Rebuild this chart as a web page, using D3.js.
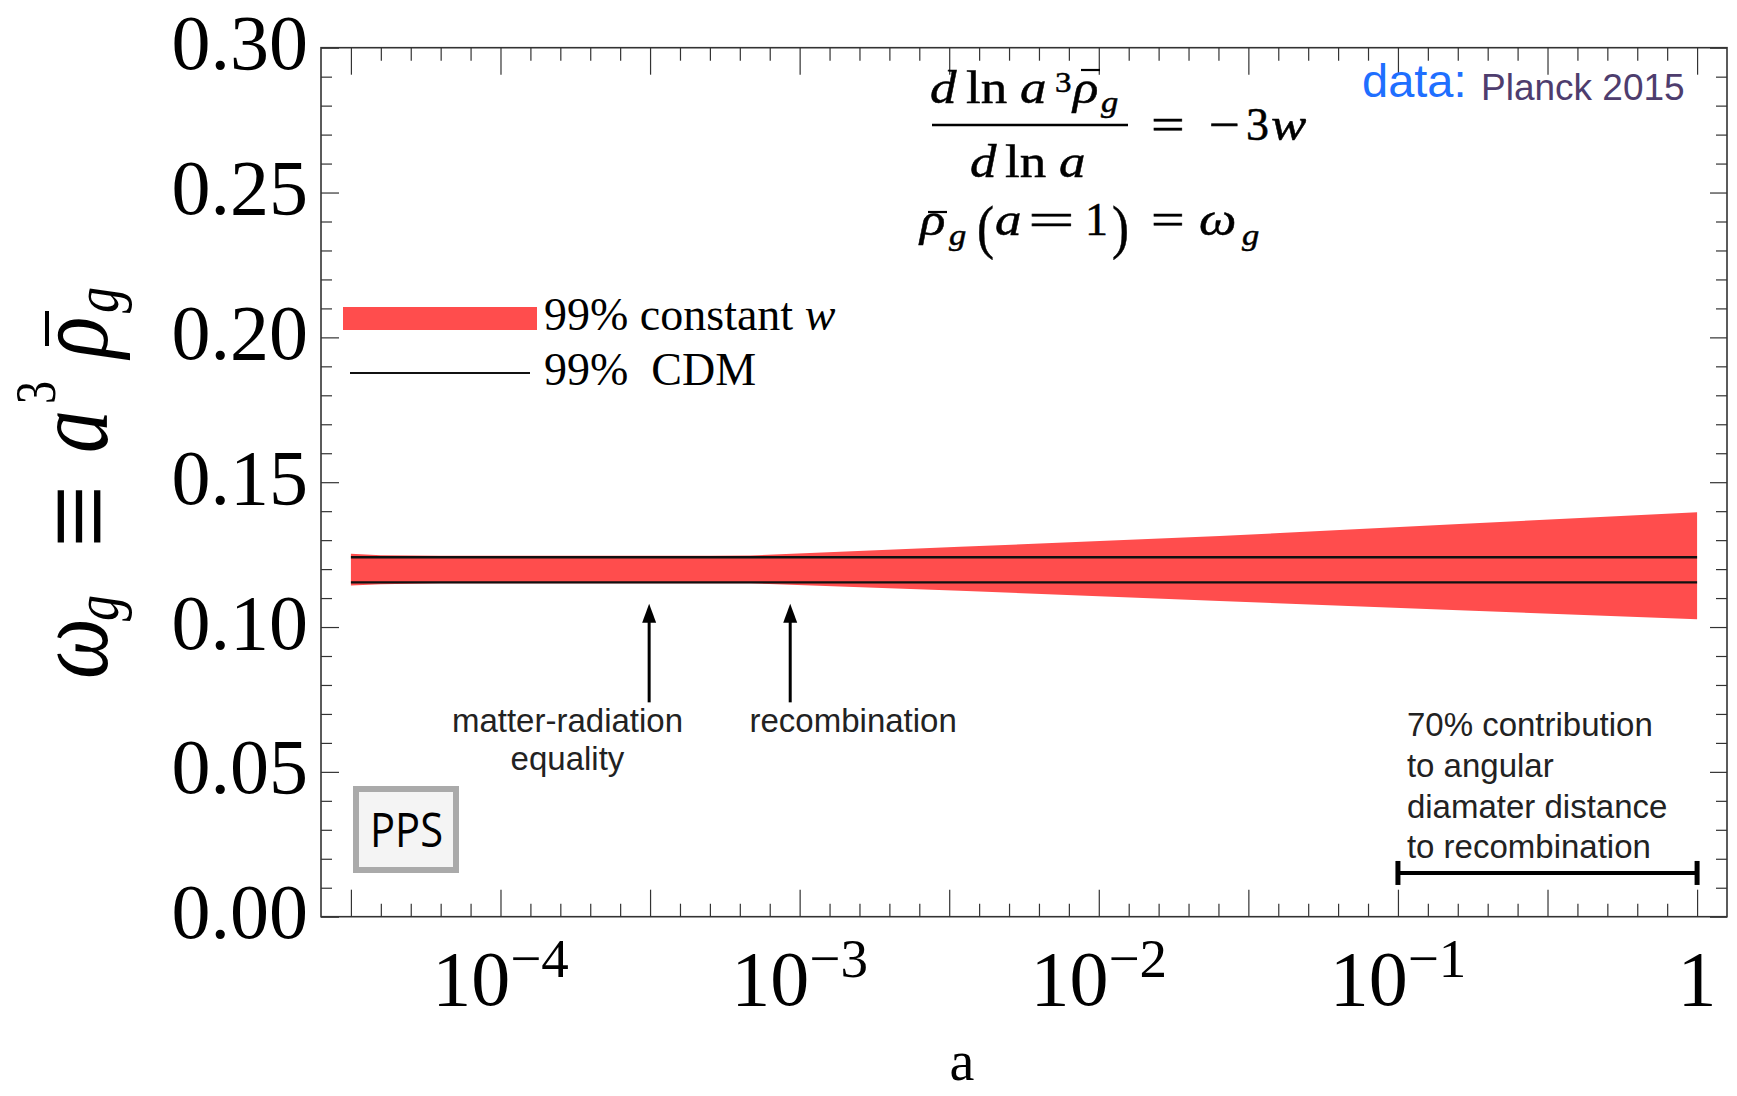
<!DOCTYPE html>
<html>
<head>
<meta charset="utf-8">
<script src="https://cdn.jsdelivr.net/npm/d3@7"></script>
<style>
body { margin: 0; background: #fff; }
svg { display: block; }
</style>
</head>
<body>
<svg id="chart"></svg>
<script>
'use strict'

// 99% constant-w band (x given as log10 a)
const bandLogA = [-4.5, -4.4, -4.2, -3.6, -3.3, -3.165, -2.464, -1.596, -0.795, 0]
const bandLow = [0.1143, 0.1148, 0.1151, 0.1151, 0.1151, 0.1151, 0.1125, 0.1090, 0.1058, 0.1027]
const bandHigh = [0.1253, 0.1248, 0.1246, 0.1246, 0.1246, 0.1247, 0.1277, 0.1314, 0.1356, 0.1396]

// 99% CDM interval, flat in a
const cdmBounds = [0.1154, 0.1241]
const cdmA = [Math.pow(10, -4.5), 1]

// axes
const xDomainExp = [-4.6, 0.1]
const xTickExp = d3.range(-45, 1).map(k => k / 10)
const xLabelExp = [-4, -3, -2, -1, 0]
const yTicks = d3.range(0, 31).map(i => i / 100)
const yLabels = [0, 0.05, 0.10, 0.15, 0.20, 0.25, 0.30]

// annotations
const eventA = [3.14e-4, 9.3e-4]
const eventLabelA = [Math.pow(10, -3.776), Math.pow(10, -2.821)]
const eventText = [['matter-radiation', 'equality'], ['recombination']]
const arrowSpan = [0.074, 0.108]
const eventTextY = 0.0637
const angularA = [0.1, 1]
const angularY = 0.0151
const angularTextY = 0.0623
const angularText = ['70% contribution', 'to angular', 'diamater distance', 'to recombination']

const W = 1737
const H = 1096
const frame = {left: 321, right: 1727, top: 47.7, bottom: 916.7}
const red = '#ff4d4d'
const ink = '#333'
const serif = '"Liberation Serif", "Times New Roman", serif'
const sans = '"Liberation Sans", Helvetica, Arial, sans-serif'

const svg = d3.select('#chart').attr('width', W).attr('height', H)
svg.append('rect').attr('width', W).attr('height', H).attr('fill', '#fff')

const x = d3.scaleLog()
    .domain(xDomainExp.map(e => Math.pow(10, e)))
    .range([frame.left, frame.right])
const y = d3.scaleLinear()
    .domain([0, 0.30])
    .range([frame.bottom, frame.top])

function isHalfDecade(d) {
    let l = Math.log10(d) * 2
    return Math.abs(l - Math.round(l)) < 1e-6
}
function isMajorY(d) {
    let l = d * 20
    return Math.abs(l - Math.round(l)) < 1e-6
}

// band + CDM lines
const band = bandLogA.map((e, i) => ({a: Math.pow(10, e), lo: bandLow[i], hi: bandHigh[i]}))
svg.append('path')
    .datum(band)
    .attr('fill', red)
    .attr('d', d3.area()
        .x(d => x(d.a))
        .y0(d => y(d.lo))
        .y1(d => y(d.hi)))

svg.selectAll('.cdm')
    .data(cdmBounds)
    .enter()
    .append('line')
    .attr('class', 'cdm')
    .attr('x1', x(cdmA[0]))
    .attr('x2', x(cdmA[1]))
    .attr('y1', d => y(d))
    .attr('y2', d => y(d))
    .attr('stroke', '#111')
    .attr('stroke-width', 2.4)

// ticks on all four sides, pointing inward
const tickVals = xTickExp.map(e => Math.pow(10, e))
const bottomAxis = svg.append('g')
    .attr('transform', 'translate(0,' + frame.bottom + ')')
    .call(d3.axisBottom(x).tickValues(tickVals).tickSizeInner(-13).tickSizeOuter(0).tickFormat(''))
bottomAxis.selectAll('.tick line').attr('y2', d => isHalfDecade(d) ? -27 : -13)
const topAxis = svg.append('g')
    .attr('transform', 'translate(0,' + frame.top + ')')
    .call(d3.axisTop(x).tickValues(tickVals).tickSizeInner(-13).tickSizeOuter(0).tickFormat(''))
topAxis.selectAll('.tick line').attr('y2', d => isHalfDecade(d) ? 27 : 13)
const leftAxis = svg.append('g')
    .attr('transform', 'translate(' + frame.left + ',0)')
    .call(d3.axisLeft(y).tickValues(yTicks).tickSizeInner(-11).tickSizeOuter(0).tickFormat(''))
leftAxis.selectAll('.tick line').attr('x2', d => isMajorY(d) ? 18 : 11)
const rightAxis = svg.append('g')
    .attr('transform', 'translate(' + frame.right + ',0)')
    .call(d3.axisRight(y).tickValues(yTicks).tickSizeInner(-11).tickSizeOuter(0).tickFormat(''))
rightAxis.selectAll('.tick line').attr('x2', d => isMajorY(d) ? -17 : -11)
svg.selectAll('.domain').remove()
svg.selectAll('.tick line').attr('stroke', ink).attr('stroke-width', 1.2)

svg.append('rect')
    .attr('x', frame.left)
    .attr('y', frame.top)
    .attr('width', frame.right - frame.left)
    .attr('height', frame.bottom - frame.top)
    .attr('fill', 'none')
    .attr('stroke', ink)
    .attr('stroke-width', 1.6)

// y tick labels
const yLab = svg.append('g')
    .attr('transform', 'translate(' + frame.left + ',0)')
    .call(d3.axisLeft(y).tickValues(yLabels).tickSize(0).tickPadding(13).tickFormat(d3.format('.2f')))
yLab.attr('font-family', serif).attr('font-size', 78)
yLab.select('.domain').remove()
yLab.selectAll('text').attr('dy', '0.27em').attr('fill', '#000')

// x tick labels: 10^n
const xLab = svg.append('g')
    .attr('font-family', serif)
    .attr('fill', '#000')
xLab.selectAll('text')
    .data(xLabelExp)
    .enter()
    .append('text')
    .attr('x', d => x(Math.pow(10, d)))
    .attr('y', 1005)
    .attr('text-anchor', 'middle')
    .attr('font-size', 78)
    .each(function (d) {
        let t = d3.select(this)
        if (d === 0) {
            t.text('1')
            return
        }
        t.append('tspan').text('10')
        t.append('tspan')
            .attr('font-size', 55)
            .attr('dy', -28)
            .text('\u2212' + (-d))
    })

svg.append('text')
    .attr('x', 962)
    .attr('y', 1080)
    .attr('text-anchor', 'middle')
    .attr('font-family', serif)
    .attr('font-size', 56)
    .text('a')

// math glyphs are drawn one by one, stretched like the original rendering
function glyph(parent, px, py, str, size, italic, sx, rotated) {
    let tr = 'translate(' + px + ',' + py + ')'
    tr += rotated ? ' rotate(-90) scale(1,' + sx + ')' : ' scale(' + sx + ',1)'
    return parent.append('text')
        .attr('transform', tr)
        .attr('font-family', serif)
        .attr('font-size', size)
        .attr('font-style', italic ? 'italic' : 'normal')
        .text(str)
}

// y axis label: omega_g = a^3 rhobar_g (reads bottom to top)
const yTitle = svg.append('g').attr('fill', '#000')
const yTitleGlyphs = [
    [679, 107, '\u03c9', 86, true, 1.22],
    [621, 118, 'g', 52, true, 1.22],
    [548, 121, '\u2261', 112, false, 1.13],
    [453, 107, 'a', 86, true, 1.22],
    [404, 55, '3', 46, false, 1.22],
    [358, 107, '\u03c1', 86, true, 1.22],
    [313, 118, 'g', 52, true, 1.22],
]
yTitleGlyphs.forEach(g => glyph(yTitle, g[1], g[0], g[2], g[3], g[4], g[5], true))
yTitle.append('line')
    .attr('x1', 47).attr('x2', 47)
    .attr('y1', 311).attr('y2', 346)
    .attr('stroke', '#000').attr('stroke-width', 4)

// equations, top centre
const eq = svg.append('g')
    .attr('fill', '#000')
    .attr('stroke', '#000')
    .attr('stroke-width', 0.5)
const eqGlyphs = [
    [930, 103, 'd', 46, true, 1.15],
    [966, 103, 'ln', 46, false, 1.15],
    [1020, 103, 'a', 46, true, 1.15],
    [1055, 92, '3', 30, false, 1.1],
    [1073, 103, '\u03c1', 46, true, 1.15],
    [1101, 112, 'g', 30, true, 1.15],
    [970, 177, 'd', 46, true, 1.15],
    [1005, 177, 'ln', 46, false, 1.15],
    [1059, 177, 'a', 46, true, 1.15],
    [1151, 140, '=', 46, false, 1.3],
    [1209, 140, '\u2212', 46, false, 1.2],
    [1246, 140, '3', 46, false, 1.0],
    [1271, 140, 'w', 46, true, 1.15],
    [920, 235, '\u03c1', 46, true, 1.15],
    [949, 245, 'g', 30, true, 1.15],
    [977, 247, '(', 60, false, 0.85],
    [995, 235, 'a', 46, true, 1.15],
    [1028, 235, '=', 46, false, 1.8],
    [1085, 235, '1', 46, false, 1.0],
    [1112, 247, ')', 60, false, 0.85],
    [1151, 235, '=', 46, false, 1.3],
    [1199, 235, '\u03c9', 46, true, 1.15],
    [1242, 245, 'g', 30, true, 1.15],
]
eqGlyphs.forEach(g => glyph(eq, g[0], g[1], g[2], g[3], g[4], g[5], false))
eq.append('line')
    .attr('x1', 932).attr('x2', 1128)
    .attr('y1', 125).attr('y2', 125)
    .attr('stroke-width', 2.4)
eq.append('line')
    .attr('x1', 1081).attr('x2', 1100)
    .attr('y1', 70).attr('y2', 70)
    .attr('stroke-width', 2.2)
eq.append('line')
    .attr('x1', 928).attr('x2', 947)
    .attr('y1', 212).attr('y2', 212)
    .attr('stroke-width', 2.2)

// data credit
const credit = svg.append('text')
    .attr('font-family', sans)
credit.append('tspan')
    .attr('x', 1362).attr('y', 97)
    .attr('font-size', 47)
    .attr('fill', '#1f6fff')
    .text('data:')
credit.append('tspan')
    .attr('x', 1481).attr('y', 100)
    .attr('font-size', 37)
    .attr('fill', '#4e3d6e')
    .text('Planck 2015')

// legend
const legend = svg.append('g').attr('font-family', serif).attr('font-size', 46)
legend.append('rect')
    .attr('x', 343).attr('y', 307)
    .attr('width', 194).attr('height', 23)
    .attr('fill', red)
legend.append('line')
    .attr('x1', 350).attr('x2', 530)
    .attr('y1', 373).attr('y2', 373)
    .attr('stroke', '#111').attr('stroke-width', 2.2)
const l1 = legend.append('text').attr('x', 544).attr('y', 330)
l1.append('tspan').text('99% constant ')
l1.append('tspan').attr('font-style', 'italic').text('w')
legend.append('text')
    .attr('x', 544).attr('y', 385)
    .text('99%\u00a0\u00a0CDM')

// event arrows
const arrows = svg.append('g')
arrows.selectAll('line')
    .data(eventA)
    .enter()
    .append('line')
    .attr('x1', d => x(d)).attr('x2', d => x(d))
    .attr('y1', y(arrowSpan[0]))
    .attr('y2', y(arrowSpan[1]) + 14)
    .attr('stroke', '#000')
    .attr('stroke-width', 3)
arrows.selectAll('path')
    .data(eventA)
    .enter()
    .append('path')
    .attr('fill', '#000')
    .attr('d', d => {
        let px = x(d)
        let py = y(arrowSpan[1])
        return 'M' + px + ',' + py + 'L' + (px - 7) + ',' + (py + 19) + 'L' + (px + 7) + ',' + (py + 19) + 'Z'
    })

const evText = svg.append('g')
    .attr('font-family', sans)
    .attr('font-size', 33)
    .attr('fill', '#222')
    .attr('text-anchor', 'middle')
eventText.forEach((lines, i) => {
    lines.forEach((s, j) => {
        evText.append('text')
            .attr('x', x(eventLabelA[i]))
            .attr('y', y(eventTextY) + 38 * j)
            .text(s)
    })
})

// angular diameter distance range
const ang = svg.append('g')
ang.append('line')
    .attr('x1', x(angularA[0])).attr('x2', x(angularA[1]))
    .attr('y1', y(angularY)).attr('y2', y(angularY))
    .attr('stroke', '#000').attr('stroke-width', 4)
ang.selectAll('.cap')
    .data(angularA)
    .enter()
    .append('line')
    .attr('class', 'cap')
    .attr('x1', d => x(d)).attr('x2', d => x(d))
    .attr('y1', y(angularY) - 12).attr('y2', y(angularY) + 12)
    .attr('stroke', '#000').attr('stroke-width', 5)
ang.selectAll('text')
    .data(angularText)
    .enter()
    .append('text')
    .attr('x', x(angularA[0]) + 9)
    .attr('y', (d, i) => y(angularTextY) + 40.7 * i)
    .attr('font-family', sans)
    .attr('font-size', 33)
    .attr('fill', '#222')
    .text(d => d)

// PPS badge
const pps = svg.append('g')
pps.append('rect')
    .attr('x', 356).attr('y', 789)
    .attr('width', 100).attr('height', 81)
    .attr('fill', '#f4f4f4')
    .attr('stroke', '#aaa')
    .attr('stroke-width', 6)
pps.append('text')
    .attr('x', 370).attr('y', 847)
    .attr('font-family', '"Liberation Sans Narrow", "Open Sans", ' + sans)
    .attr('font-size', 47)
    .attr('textLength', 73)
    .attr('lengthAdjust', 'spacingAndGlyphs')
    .attr('fill', '#000')
    .text('PPS')
</script>
</body>
</html>
